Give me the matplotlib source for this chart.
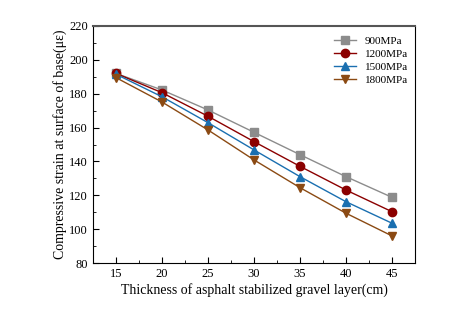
import matplotlib.pyplot as plt
from matplotlib.ticker import MultipleLocator

plt.rcParams['font.family'] = ['Liberation Serif', 'DejaVu Serif']

# Thickness of layer (cm)
thickness = [15, 20, 25, 30, 35, 40, 45]

# Compressive strain (με) per modulus
strain_900 = [192, 182.2, 170.4, 157.2, 144, 131, 118.8]
strain_1200 = [192, 180.6, 166.7, 151.7, 137.1, 123.1, 110.3]
strain_1500 = [191.5, 178.2, 162.9, 146.8, 131, 116.2, 103.5]
strain_1800 = [189.5, 175.1, 158.6, 140.9, 124.5, 109.4, 96]

labels = ['900MPa', '1200MPa', '1500MPa', '1800MPa']

fig = plt.figure(figsize=(4.59, 3.2), dpi=100)
ax = fig.add_axes([93 / 459, 1 - 263 / 320, (415 - 93) / 459, (263 - 26) / 320])

ax.plot(thickness, strain_900, marker='s', color='#8c8c8c', lw=1, ms=6, label=labels[0])
ax.plot(thickness, strain_1200, marker='o', color='#8b0000', lw=1, ms=6, label=labels[1])
ax.plot(thickness, strain_1500, marker='^', color='#1a6fb0', lw=1, ms=6, label=labels[2])
ax.plot(thickness, strain_1800, marker='v', color='#8b4a13', lw=1, ms=6, label=labels[3])

ax.set_xlim(12.5, 47.5)
ax.set_ylim(80, 220)
ax.xaxis.set_major_locator(MultipleLocator(5))
ax.xaxis.set_minor_locator(MultipleLocator(2.5))
ax.yaxis.set_major_locator(MultipleLocator(20))
ax.yaxis.set_minor_locator(MultipleLocator(10))
ax.tick_params(which='both', direction='in', labelsize=9)
ax.tick_params(which='major', length=4)
ax.tick_params(which='minor', length=2)
ax.spines['top'].set_color('#555555')
ax.spines['top'].set_linewidth(1.5)

ax.set_xlabel('Thickness of asphalt stabilized gravel layer(cm)', fontsize=10, labelpad=2)
ax.set_ylabel('Compressive strain at surface of base(με)', fontsize=10, labelpad=2)

ax.legend(loc='upper right', frameon=False, fontsize=8, handlelength=2.0,
          labelspacing=0.3, bbox_to_anchor=(1.01, 1.0))

fig.savefig('out.png', dpi=100)
